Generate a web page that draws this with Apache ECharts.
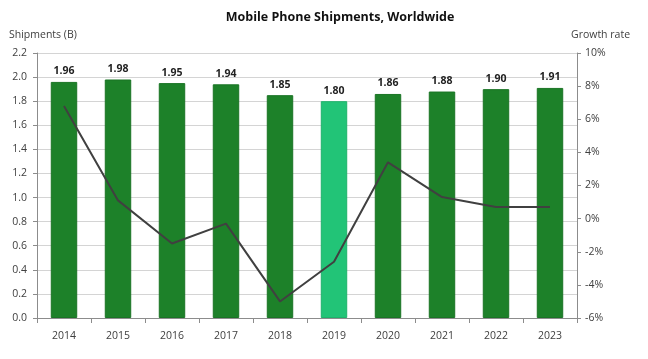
<!DOCTYPE html>
<html>
<head>
<meta charset="utf-8">
<script src="https://cdn.jsdelivr.net/npm/echarts@6/dist/echarts.min.js"></script>
<style>html,body{margin:0;padding:0;background:#fff}#c{width:648px;height:359px}</style>
</head>
<body>
<div id="c"></div>
<script>
const years = ['2014','2015','2016','2017','2018','2019','2020','2021','2022','2023'];
const shipments = [1.96, 1.98, 1.95, 1.94, 1.85, 1.80, 1.86, 1.88, 1.90, 1.91];
const growthRate = [6.8, 1.1, -1.5, -0.3, -5.0, -2.6, 3.4, 1.3, 0.7, 0.7];
const highlightYear = '2019';

const darkGreen = '#1d8129';
const lightGreen = '#22c477';
const font = 'Open Sans';

const chart = echarts.init(document.getElementById('c'), null, {renderer: 'canvas'});
chart.setOption({
  animation: false,
  backgroundColor: '#fff',
  title: {
    text: 'Mobile Phone Shipments, Worldwide',
    left: 335, top: 6, textAlign: 'center',
    textStyle: {fontFamily: font, fontSize: 12.5, fontWeight: 'bold', color: '#111'}
  },
  grid: {left: 37, right: 71, top: 53, bottom: 41, containLabel: false},
  xAxis: {
    type: 'category',
    data: years,
    axisLine: {lineStyle: {color: '#8c8c8c'}},
    axisTick: {show: true, length: 5, lineStyle: {color: '#8c8c8c'}},
    axisLabel: {fontFamily: font, fontSize: 10.5, color: '#404040', margin: 13}
  },
  yAxis: [
    {
      type: 'value', min: 0, max: 2.2, interval: 0.2,
      name: 'Shipments (B)', nameLocation: 'end', nameGap: 12,
      nameTextStyle: {fontFamily: font, fontSize: 10.5, color: '#404040', align: 'left', padding: [0, 0, 0, -28]},
      axisLine: {show: true, lineStyle: {color: '#8c8c8c'}},
      axisTick: {show: true, length: 4, lineStyle: {color: '#8c8c8c'}},
      axisLabel: {fontFamily: font, fontSize: 10.5, color: '#404040', margin: 10, formatter: v => v.toFixed(1)},
      splitLine: {show: true, lineStyle: {color: '#d4d4d4'}}
    },
    {
      type: 'value', min: -6, max: 10, interval: 2, position: 'right',
      name: 'Growth rate', nameLocation: 'end', nameGap: 12,
      nameTextStyle: {fontFamily: font, fontSize: 10.5, color: '#404040', align: 'left', padding: [0, 0, 0, -6]},
      axisLine: {show: true, lineStyle: {color: '#8c8c8c'}},
      axisTick: {show: true, length: 4, lineStyle: {color: '#8c8c8c'}},
      axisLabel: {fontFamily: font, fontSize: 10.5, color: '#404040', margin: 8, formatter: v => v + '%'},
      splitLine: {show: false}
    }
  ],
  series: [
    {
      type: 'bar',
      data: shipments.map((v, i) => ({
        value: v,
        itemStyle: {
          color: years[i] === highlightYear ? lightGreen : darkGreen,
          borderColor: years[i] === highlightYear ? '#1fb26b' : '#1a7425',
          borderWidth: 1
        }
      })),
      barWidth: '49%',
      label: {
        show: true, position: 'top', distance: 5,
        fontFamily: font, fontSize: 10.5, fontWeight: 'bold', color: '#222',
        formatter: p => p.value.toFixed(2)
      },
      z: 2
    },
    {
      type: 'line',
      yAxisIndex: 1,
      data: growthRate,
      symbol: 'none',
      lineStyle: {color: '#404040', width: 2},
      z: 3
    }
  ]
});
</script>
</body>
</html>
